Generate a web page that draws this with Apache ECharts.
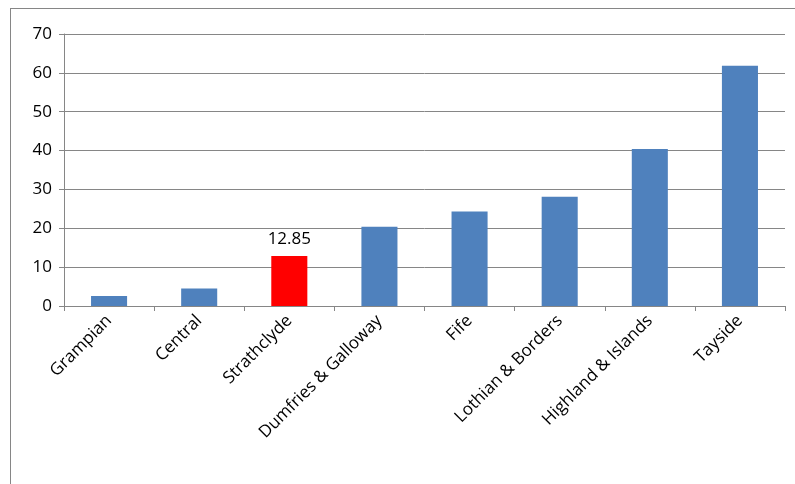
<!DOCTYPE html>
<html>
<head>
<meta charset="utf-8">
<script src="https://cdn.jsdelivr.net/npm/echarts@6/dist/echarts.min.js"></script>
<style>
html, body { margin: 0; padding: 0; background: #fff; }
#frame { position: absolute; left: 10px; top: 8px; width: 790px; height: 480px; border: 1px solid #868686; box-sizing: border-box; }
#chart { width: 795px; height: 484px; }
</style>
</head>
<body>
<div id="frame"></div>
<div id="chart"></div>
<script>
var categories = ['Grampian', 'Central', 'Strathclyde', 'Dumfries & Galloway', 'Fife', 'Lothian & Borders', 'Highland & Islands', 'Tayside'];
var values = [2.6, 4.5, 12.85, 20.4, 24.3, 28.1, 40.4, 61.8];
var highlight = 'Strathclyde';

var chart = echarts.init(document.getElementById('chart'));
chart.setOption({
    animation: false,
    grid: { left: 64, right: 10, top: 34, bottom: 178 },
    xAxis: {
        type: 'category',
        data: categories,
        axisTick: { show: true, interval: 0, length: 5, lineStyle: { color: '#868686' } },
        axisLine: { lineStyle: { color: '#868686' } },
        axisLabel: { rotate: 45, interval: 0, color: '#000', fontSize: 17, fontFamily: 'Open Sans', margin: 12 }
    },
    yAxis: {
        type: 'value',
        min: 0,
        max: 70,
        interval: 10,
        axisLine: { show: true, lineStyle: { color: '#868686' } },
        axisTick: { show: true, length: 5, lineStyle: { color: '#868686' } },
        axisLabel: { color: '#000', fontSize: 17, fontFamily: 'Open Sans', margin: 12 },
        splitLine: { lineStyle: { color: '#868686' } }
    },
    series: [{
        type: 'bar',
        barWidth: '40%',
        data: values.map(function (v, i) {
            var hot = categories[i] === highlight;
            return {
                value: v,
                itemStyle: { color: hot ? '#ff0000' : '#4f81bd' },
                label: { show: hot, position: 'top', color: '#000', fontSize: 17, fontFamily: 'Open Sans', distance: 8 }
            };
        })
    }]
});
</script>
</body>
</html>
